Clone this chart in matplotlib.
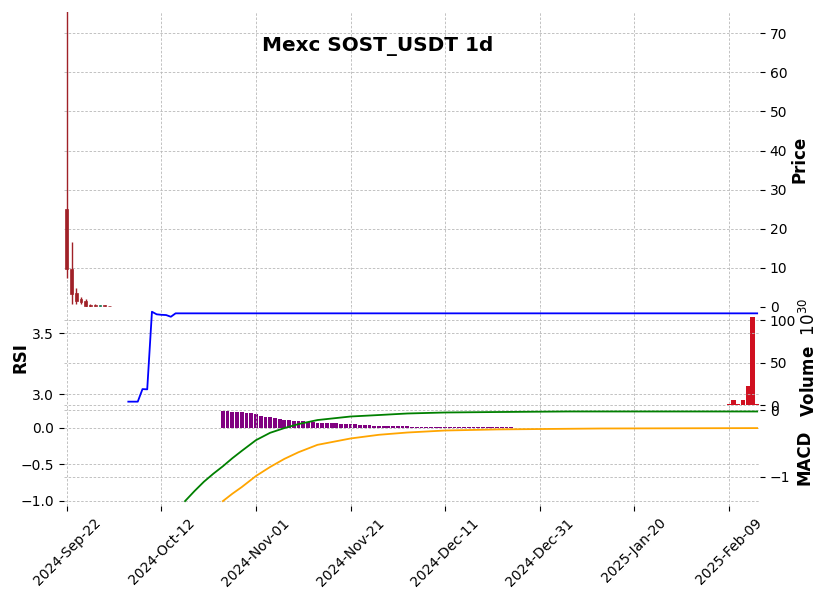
import matplotlib
matplotlib.use("Agg")
import matplotlib.pyplot as plt
import numpy as np

# ---------------- data ----------------
title = "Mexc SOST_USDT 1d"
n_days = 147  # 2024-09-22 .. 2025-02-15, daily
tick_pos = [0, 20, 40, 60, 80, 100, 120, 140]
tick_labels = ["2024-Sep-22", "2024-Oct-12", "2024-Nov-01", "2024-Nov-21",
               "2024-Dec-11", "2024-Dec-31", "2025-Jan-20", "2025-Feb-09"]

# candles (only first days carry visible prices)
c_idx = [0, 1, 2, 3, 4, 5, 6, 7, 8, 9]
c_open = [25.1, 9.8, 3.6, 2.05, 1.53, 0.55, 0.45, 0.25, 0.40, 0.30]
c_high = [80.0, 16.7, 4.8, 2.5, 2.05, 0.85, 0.65, 0.60, 0.45, 0.32]
c_low = [7.4, 0.7, 0.77, 0.77, 0.08, 0.10, 0.15, 0.15, 0.20, 0.26]
c_close = [9.8, 3.4, 1.6, 1.2, 0.33, 0.15, 0.20, 0.40, 0.25, 0.28]

# volume (raw units)
v_idx = [140, 141, 142, 143, 144, 145, 146]
v_val = [0.8e30, 6.0e30, 0.8e30, 6.0e30, 22e30, 103e30, 0.8e30]

# RSI
rsi_idx = [13, 14, 15, 16, 17, 18, 19, 20, 21, 22, 23, 146]
rsi_val = [2.94, 2.94, 2.94, 3.043, 3.041, 3.677, 3.656, 3.652, 3.650, 3.636, 3.664, 3.664]

# MACD line & signal
macd_idx = [25, 27, 29, 31, 33, 35, 37, 40, 43, 46, 49, 53, 60, 66, 72, 80, 91, 106, 146]
macd_val = [-1.36, -1.21, -1.07, -0.95, -0.84, -0.72, -0.61, -0.45, -0.34, -0.27, -0.21,
            -0.15, -0.097, -0.075, -0.052, -0.037, -0.030, -0.022, -0.022]
sig_idx = [33, 35, 37, 40, 43, 46, 49, 53, 60, 66, 72, 80, 91, 100, 113, 146]
sig_val = [-1.36, -1.25, -1.15, -0.985, -0.85, -0.73, -0.63, -0.52, -0.425, -0.37,
           -0.336, -0.306, -0.29, -0.284, -0.276, -0.27]

# MACD histogram
hist_start = 33
hist_val = [0.229, 0.226, 0.222, 0.219, 0.215, 0.206, 0.197, 0.182, 0.167, 0.153,
            0.140, 0.130, 0.119, 0.112, 0.105, 0.098, 0.092, 0.085, 0.078, 0.075,
            0.071, 0.068, 0.064, 0.061, 0.058, 0.055, 0.051, 0.048, 0.044, 0.041,
            0.037, 0.034, 0.030, 0.029, 0.027, 0.025, 0.023, 0.021, 0.019, 0.017,
            0.014, 0.012, 0.011, 0.010, 0.010, 0.009, 0.009, 0.009, 0.008, 0.008,
            0.008, 0.008, 0.007, 0.007, 0.007, 0.007, 0.006, 0.006, 0.006, 0.006,
            0.005, 0.005]

# ---------------- figure ----------------
W, H = 831, 599
fig = plt.figure(figsize=(W / 100, H / 100), dpi=100)

def frac(x0, y0, x1, y1):
    return [x0 / W, 1 - y1 / H, (x1 - x0) / W, (y1 - y0) / H]

L, R = 64, 760
ax_main = fig.add_axes(frac(L, 12, R, 307))
ax_vol = fig.add_axes(frac(L, 307, R, 408))
ax_rsi = ax_vol.twinx()
ax_macd = fig.add_axes(frac(L, 408, R, 506))
ax_hist = ax_macd.twinx()

grid_kw = dict(color="#b8b8b8", linestyle="--", linewidth=0.6, dashes=(3, 2))
xlim = (-0.6, n_days - 0.4)

for ax in (ax_main, ax_vol, ax_rsi, ax_macd, ax_hist):
    for s in ax.spines.values():
        s.set_visible(False)
    ax.set_xlim(*xlim)
    ax.set_xticks(tick_pos)

# --- main candles ---
up_c, down_c = "#1f7a5a", "#a02128"
for i, o, h, l, c in zip(c_idx, c_open, c_high, c_low, c_close):
    col = up_c if c >= o else down_c
    ax_main.vlines(i, l, h, color=col, linewidth=1.0, zorder=3)
    ax_main.bar(i, max(abs(c - o), 0.05), bottom=min(o, c), width=0.6,
                color=col, edgecolor=col, linewidth=0.5, zorder=4)
ax_main.set_ylim(0, 75.4)
ax_main.yaxis.tick_right()
ax_main.yaxis.set_label_position("right")
ax_main.set_yticks([0, 10, 20, 30, 40, 50, 60, 70])
ax_main.set_ylabel("Price", fontsize=12, fontweight="bold", labelpad=2)
ax_main.tick_params(axis="x", bottom=False, labelbottom=False)
ax_main.grid(True, **grid_kw)
ax_main.yaxis.get_major_ticks()[0].gridline.set_visible(False)

# --- volume panel ---
ax_vol.bar(v_idx, np.array(v_val) / 1e30, width=0.9, color="#d01020", zorder=3)
ax_vol.set_ylim(-3.5, 115.3)
ax_vol.yaxis.tick_right()
ax_vol.yaxis.set_label_position("right")
ax_vol.set_yticks([0, 50, 100])
ax_vol.set_ylabel("Volume  $10^{30}$", fontsize=12, fontweight="bold", labelpad=2)
ax_vol.tick_params(axis="x", bottom=False, labelbottom=False)
ax_vol.grid(True, **grid_kw)

ax_rsi.plot(rsi_idx, rsi_val, color="blue", linewidth=1.3, zorder=4)
ax_rsi.set_ylim(2.888, 3.716)
ax_rsi.yaxis.tick_left()
ax_rsi.yaxis.set_label_position("left")
ax_rsi.set_yticks([3.0, 3.5])
ax_rsi.set_yticklabels(["3.0", "3.5"])
ax_rsi.set_ylabel("RSI", fontsize=12, fontweight="bold", labelpad=2)
ax_rsi.tick_params(axis="x", bottom=False, labelbottom=False)
ax_rsi.grid(True, **grid_kw)

# --- MACD panel ---
ax_macd.plot(macd_idx, macd_val, color="green", linewidth=1.3, zorder=4)
ax_macd.plot(sig_idx, sig_val, color="orange", linewidth=1.3, zorder=4)
ax_macd.set_ylim(-1.433, 0.03)
ax_macd.yaxis.tick_right()
ax_macd.yaxis.set_label_position("right")
ax_macd.set_yticks([-1, 0])
ax_macd.set_ylabel("MACD", fontsize=12, fontweight="bold", labelpad=4)
ax_macd.set_xticks(tick_pos)
ax_macd.set_xticklabels(tick_labels, rotation=45, ha="center")
ax_macd.grid(True, **grid_kw)

hx = np.arange(hist_start, hist_start + len(hist_val))
ax_hist.bar(hx, hist_val, width=0.8, color="purple", zorder=3)
ax_hist.set_ylim(-1.073, 0.27)
ax_hist.yaxis.tick_left()
ax_hist.set_yticks([-1.0, -0.5, 0.0])
ax_hist.set_yticklabels(["\u22121.0", "\u22120.5", "0.0"])
ax_hist.tick_params(axis="x", bottom=False, labelbottom=False)
ax_hist.grid(True, axis="y", **grid_kw)
# keep lines above histogram
ax_macd.set_zorder(ax_hist.get_zorder() + 1)
ax_macd.patch.set_visible(False)

fig.text(0.455, 1 - 46 / H, title, fontsize=14.4, fontweight="bold",
         ha="center", va="center")

fig.savefig("out.png", dpi=100)
